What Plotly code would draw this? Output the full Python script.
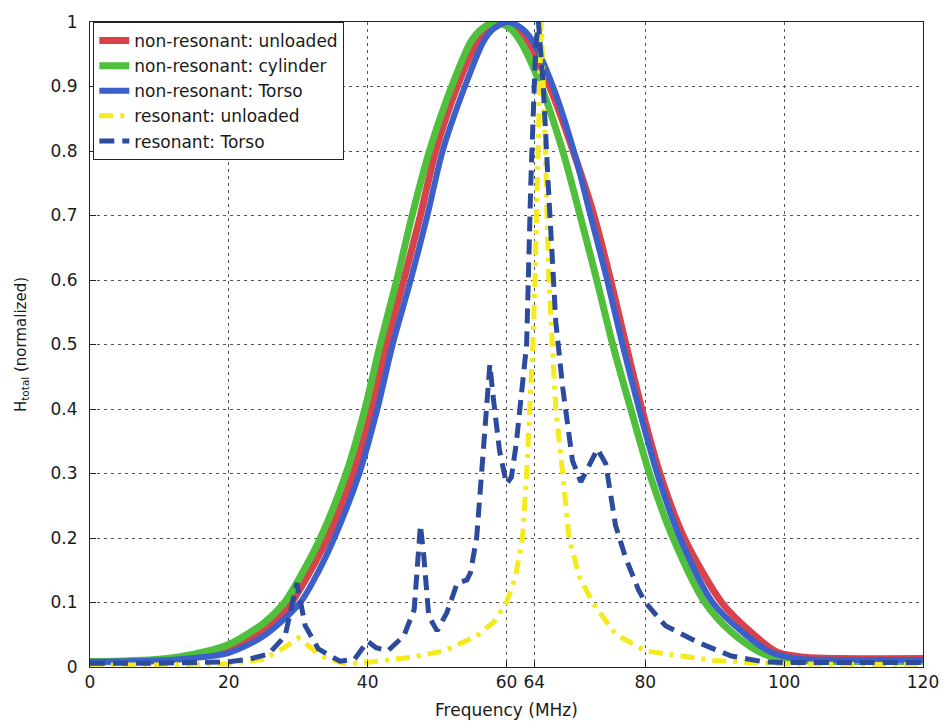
import plotly.graph_objects as go

# Frequency (MHz) and normalized |H_total| for each coil configuration
f_nr_unloaded = [0, 10, 15, 20, 25, 29.0, 31.8, 34.2, 37.9, 40.6, 42.7, 45.2, 47.6, 49.8,
                 52.9, 55.8, 57.3, 59.3, 61.4, 63.1, 66.2, 69.6, 72.6, 75.0, 77.2, 79.5,
                 82.1, 85.6, 91.0, 95.2, 99.0, 103, 108, 120]
h_nr_unloaded = [0.008, 0.01, 0.016, 0.028, 0.055, 0.1, 0.15, 0.2, 0.3, 0.4, 0.5, 0.6, 0.7, 0.8,
                 0.9, 0.97, 0.99, 1.0, 0.99, 0.97, 0.9, 0.8, 0.7, 0.6, 0.5, 0.4,
                 0.3, 0.2, 0.1, 0.054, 0.023, 0.015, 0.013, 0.013]

f_nr_cylinder = [0, 10, 15, 20, 25, 28.0, 30.8, 33.2, 36.9, 39.6, 41.8, 44.2, 46.4, 48.9,
                 52.1, 54.9, 56.5, 58.5, 60.5, 62.0, 65.0, 68.1, 70.6, 73.0, 75.3, 77.9,
                 80.6, 84.0, 88.6, 92.4, 96.5, 100, 105, 120]
h_nr_cylinder = [0.008, 0.012, 0.02, 0.035, 0.068, 0.1, 0.15, 0.2, 0.3, 0.4, 0.5, 0.6, 0.7, 0.8,
                 0.9, 0.97, 0.99, 1.0, 0.99, 0.97, 0.9, 0.8, 0.7, 0.6, 0.5, 0.4,
                 0.3, 0.2, 0.1, 0.054, 0.023, 0.012, 0.009, 0.009]

f_nr_torso = [0, 10, 15, 20, 25, 30.3, 33.0, 35.2, 38.8, 41.4, 43.6, 46.2, 48.6, 50.8,
              54.0, 56.7, 58.2, 60.2, 62.2, 63.8, 66.7, 69.7, 72.1, 74.5, 76.7, 79.1,
              81.7, 85.0, 89.7, 94.0, 98.1, 102, 108, 120]
h_nr_torso = [0.008, 0.01, 0.014, 0.022, 0.048, 0.1, 0.15, 0.2, 0.3, 0.4, 0.5, 0.6, 0.7, 0.8,
              0.9, 0.97, 0.99, 1.0, 0.99, 0.97, 0.9, 0.8, 0.7, 0.6, 0.5, 0.4,
              0.3, 0.2, 0.1, 0.054, 0.023, 0.013, 0.011, 0.011]

f_res_unloaded = [0, 10, 20, 25, 28, 30, 33.3, 36.7, 40.7, 46.2, 51.0, 55.7, 58.1, 60.0,
                  61.3, 62.3, 62.9, 63.4, 63.8, 64.1, 64.5, 65.0, 65.6, 66.1, 66.6, 67.1,
                  68.1, 69.0, 70.5, 72.4, 75.7, 80.0, 85.2, 90.0, 95, 100, 110, 120]
h_res_unloaded = [0.003, 0.003, 0.005, 0.012, 0.03, 0.045, 0.017, 0.005, 0.008, 0.015, 0.025,
                  0.048, 0.069, 0.1, 0.14, 0.2, 0.3, 0.4, 0.5, 0.6, 0.8, 1.0, 0.8, 0.6, 0.5,
                  0.4, 0.3, 0.2, 0.14, 0.1, 0.051, 0.025, 0.017, 0.01, 0.007, 0.005, 0.004, 0.004]

f_res_torso = [0, 10, 20, 22.9, 25.7, 28.1, 29.8, 31.0, 32.9, 36.0, 38.1, 40.0, 41.2, 42.9,
               45.2, 46.7, 47.6, 48.1, 48.8, 50.0, 51.4, 52.9, 54.3, 54.8, 55.7, 56.7,
               57.6, 58.1, 59.0, 60.0, 60.7, 61.4, 62.4, 62.9, 63.5, 64.0, 64.2, 64.6,
               65.3, 66.0, 67.1, 68.1, 69.5, 70.7, 71.7, 73.1, 74.3, 75.7, 77.1, 79.0,
               80.0, 82.9, 87.6, 92.4, 97.1, 100, 110, 120]
h_res_torso = [0.006, 0.006, 0.008, 0.012, 0.02, 0.048, 0.13, 0.064, 0.028, 0.009, 0.012, 0.04,
               0.03, 0.025, 0.048, 0.089, 0.22, 0.17, 0.079, 0.056, 0.084, 0.13, 0.135, 0.146,
               0.2, 0.335, 0.469, 0.417, 0.335, 0.284, 0.294, 0.346, 0.438, 0.5, 0.75, 0.95,
               0.96, 1.0, 0.9, 0.75, 0.535, 0.433, 0.32, 0.287, 0.31, 0.338, 0.315, 0.22,
               0.171, 0.12, 0.1, 0.064, 0.038, 0.017, 0.008, 0.007, 0.007, 0.007]

x_ticks = [0, 20, 40, 60, 64, 80, 100, 120]
y_ticks = [0, 0.1, 0.2, 0.3, 0.4, 0.5, 0.6, 0.7, 0.8, 0.9, 1]
y_tick_text = ["0", "0.1", "0.2", "0.3", "0.4", "0.5", "0.6", "0.7", "0.8", "0.9", "1"]

FONT = "DejaVu Sans, Liberation Sans, Arial, sans-serif"
INK = "#1a1a1a"

fig = go.Figure()
fig.add_trace(go.Scatter(x=f_nr_unloaded, y=h_nr_unloaded, mode="lines",
                         name="non-resonant: unloaded", line_shape="spline",
                         line=dict(color="#d8434b", width=7, smoothing=0.8)))
fig.add_trace(go.Scatter(x=f_nr_cylinder, y=h_nr_cylinder, mode="lines",
                         name="non-resonant: cylinder", line_shape="spline",
                         line=dict(color="#4fbf3c", width=7, smoothing=0.8)))
fig.add_trace(go.Scatter(x=f_nr_torso, y=h_nr_torso, mode="lines",
                         name="non-resonant: Torso", line_shape="spline",
                         line=dict(color="#3b5fcb", width=6, smoothing=0.8)))
fig.add_trace(go.Scatter(x=f_res_unloaded, y=h_res_unloaded, mode="lines",
                         name="resonant: unloaded",
                         line=dict(color="#f4ea1c", width=5, dash="14px,7px,4px,7px")))
fig.add_trace(go.Scatter(x=f_res_torso, y=h_res_torso, mode="lines",
                         name="resonant: Torso",
                         line=dict(color="#2c4b9c", width=5, dash="15px,8px")))

axis_common = dict(
    showline=True, linecolor="#222", linewidth=1, mirror=True,
    ticks="inside", ticklen=6, tickcolor="#222",
    showgrid=True, gridcolor="#555", gridwidth=1, griddash="3px,4px",
    zeroline=False, tickfont=dict(family=FONT, size=17, color=INK),
)

fig.update_xaxes(range=[0, 120], tickvals=x_ticks, ticktext=[str(t) for t in x_ticks],
                 title=dict(text="Frequency (MHz)", font=dict(family=FONT, size=17, color=INK),
                            standoff=12),
                 **axis_common)
fig.update_yaxes(range=[0, 1], tickvals=y_ticks, ticktext=y_tick_text,
                 ticklabelstandoff=8,
                 title=dict(text="H<sub>total</sub> (normalized)",
                            font=dict(family=FONT, size=15, color=INK), standoff=20),
                 **axis_common)

fig.update_layout(
    width=951, height=728,
    margin=dict(l=90, r=21, t=16, b=60),
    paper_bgcolor="white", plot_bgcolor="white",
    font=dict(family=FONT, size=16, color=INK),
    legend=dict(x=0.004, y=1.0, xanchor="left", yanchor="top",
                bgcolor="white", bordercolor="#222", borderwidth=1,
                font=dict(family=FONT, size=17, color=INK),
                tracegroupgap=0, itemwidth=30),
    showlegend=True,
)

fig.write_html("out.html")
